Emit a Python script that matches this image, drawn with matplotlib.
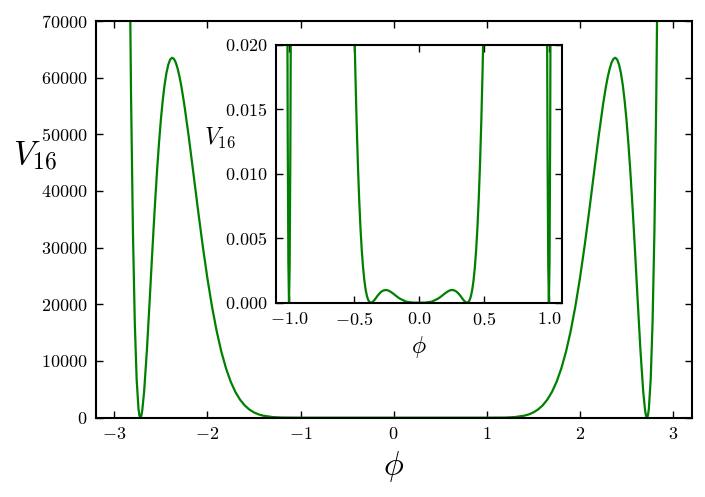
import numpy as np
import matplotlib
matplotlib.use('Agg')
import matplotlib.pyplot as plt

plt.rcParams['mathtext.fontset'] = 'cm'
plt.rcParams['font.family'] = 'serif'
plt.rcParams['font.serif'] = ['cmr10']
plt.rcParams['axes.formatter.use_mathtext'] = True
plt.rcParams['axes.unicode_minus'] = True

# V16 (половина кривой, phi >= 0, кривая симметрична)
phi_half = [0, 0.5, 1.0, 1.2, 1.3, 1.4, 1.45, 1.5, 1.55, 1.6,
            1.65, 1.7, 1.75, 1.8, 1.85, 1.9, 1.95, 2.0, 2.05, 2.1,
            2.15, 2.2, 2.25, 2.28, 2.3, 2.32, 2.34, 2.36, 2.38, 2.40,
            2.42, 2.44, 2.46, 2.48, 2.5, 2.52, 2.54, 2.56, 2.58, 2.60,
            2.62, 2.65, 2.68, 2.70, 2.71, 2.72, 2.73, 2.74, 2.76, 2.78,
            2.80, 2.82, 2.84]
V_half = [0, 0, 0, 24, 106, 345, 576, 927, 1440, 2170,
          3182, 4550, 6356, 8683, 11610, 15220, 19530, 24570, 30270, 36510,
          43040, 49510, 55430, 58480, 60190, 61590, 62660, 63300, 63490, 63180,
          62290, 60810, 58710, 55950, 52530, 48460, 43780, 38540, 32840, 26840,
          20700, 11860, 4521, 1251, 329, 0, 364, 1531, 6765, 16800,
          32950, 56740, 89970]

# вставка: область около нуля
phi_in_half = [0, 0.05, 0.1, 0.15, 0.175, 0.2,
               0.215, 0.23, 0.245, 0.26, 0.275, 0.29, 0.305, 0.32,
               0.33, 0.34, 0.35, 0.36, 0.37, 0.38, 0.39, 0.40,
               0.41, 0.42, 0.43, 0.44, 0.45, 0.46, 0.47, 0.48, 0.49, 0.50,
               0.52, 0.75,
               0.975, 0.98, 0.985, 0.99, 0.995, 1.0,
               1.005, 1.01, 1.015, 1.02, 1.025, 1.1]
V_in_half = [0, 6.0e-6, 8.3e-5, 3.3e-4, 5.16e-4, 7.2e-4,
             8.25e-4, 9.2e-4, 9.68e-4, 9.8e-4, 9.4e-4, 8.5e-4, 6.98e-4, 5.2e-4,
             3.75e-4, 2.4e-4, 1.21e-4, 3.5e-5, 0, 4.5e-5, 2.0e-4, 5.05e-4,
             9.95e-4, 1.718e-3, 2.723e-3, 4.067e-3, 5.81e-3, 8.021e-3, 1.077e-2,
             1.412e-2, 1.817e-2, 2.298e-2,
             3.524e-2, 0.5126,
             0.06065, 0.04066, 0.02395, 0.01114, 0.002915, 0,
             0.00319, 0.01334, 0.03138, 0.0583, 0.09517, 2.847]


def mirror(x, y):
    x = np.array(x, dtype=float)
    y = np.array(y, dtype=float)
    return np.concatenate([-x[:0:-1], x]), np.concatenate([y[:0:-1], y])


phi, V = mirror(phi_half, V_half)
phi_in, V_in = mirror(phi_in_half, V_in_half)

green = (0, 0.5, 0)

fig = plt.figure(figsize=(7.05, 4.97), dpi=100)
ax = fig.add_axes([0.1357, 0.1596, 0.8454, 0.7984])
ax.plot(phi, V, color=green, lw=1.6)
ax.set_xlim(-3.2, 3.2)
ax.set_ylim(0, 70000)
ax.set_xticks([-3, -2, -1, 0, 1, 2, 3])
ax.set_yticks(np.arange(0, 70001, 10000))
ax.tick_params(direction='in', top=True, right=True, length=5, width=1, labelsize=13, pad=6)
for s in ax.spines.values():
    s.set_linewidth(1.5)
ax.set_xlabel(r'$\phi$', fontsize=24)
ax.xaxis.set_label_coords(0.5, -0.124)
ax.xaxis.label.set_va('center')
ax.set_ylabel(r'$V_{16}$', fontsize=24, rotation=0, ha='center', va='center')
ax.yaxis.set_label_coords(-0.102, 0.66)

# вставка
ins = fig.add_axes([0.3915, 0.391, 0.4055, 0.5185])
ins.plot(phi_in, V_in, color=green, lw=1.6)
ins.set_xlim(-1.1, 1.1)
ins.set_ylim(0, 0.02)
ins.set_xticks([-1.0, -0.5, 0.0, 0.5, 1.0])
ins.set_yticks([0, 0.005, 0.01, 0.015, 0.02])
ins.yaxis.set_major_formatter(matplotlib.ticker.FormatStrFormatter(r'$%.3f$'))
ins.xaxis.set_major_formatter(matplotlib.ticker.FormatStrFormatter(r'$%.1f$'))
ins.tick_params(direction='in', top=True, right=True, length=5, width=1, labelsize=13, pad=6)
for s in ins.spines.values():
    s.set_linewidth(1.5)
ins.set_xlabel(r'$\phi$', fontsize=17)
ins.xaxis.set_label_coords(0.5, -0.172)
ins.xaxis.label.set_va('center')
ins.set_ylabel(r'$V_{16}$', fontsize=17, rotation=0, ha='center', va='center')
ins.yaxis.set_label_coords(-0.196, 0.639)

fig.savefig('out.png', dpi=100)
